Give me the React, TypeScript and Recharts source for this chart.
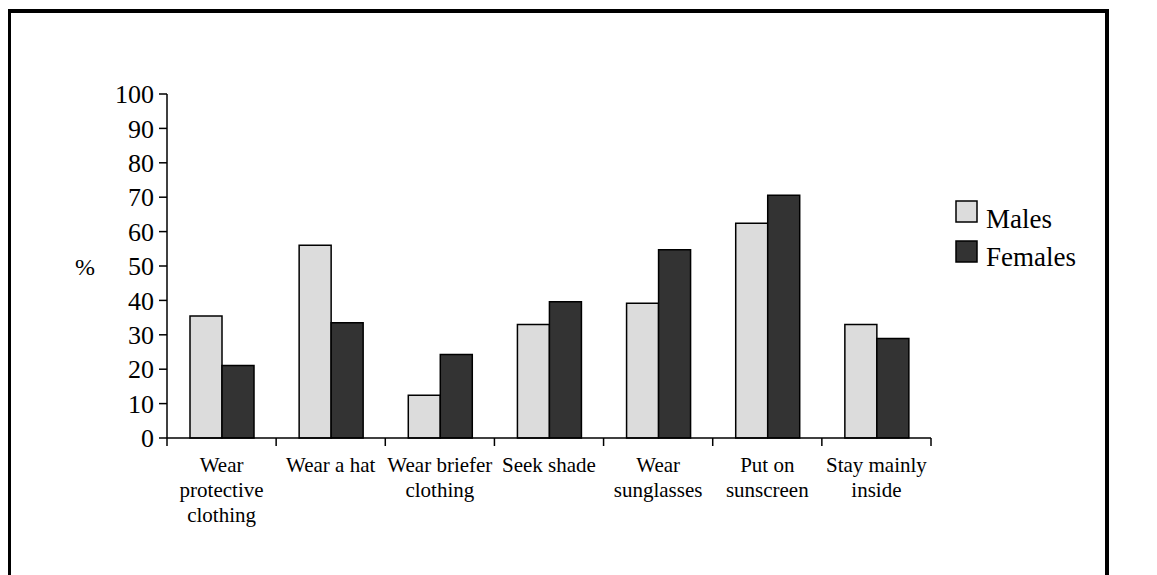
import { BarChart, Bar, XAxis, YAxis, Legend, Label } from "recharts";

const categories = [
  "Wear\nprotective\nclothing",
  "Wear a hat",
  "Wear briefer\nclothing",
  "Seek shade",
  "Wear\nsunglasses",
  "Put on\nsunscreen",
  "Stay mainly\ninside",
];
const males = [35.5, 56, 12.4, 33, 39.2, 62.4, 33];
const females = [21.1, 33.5, 24.3, 39.6, 54.7, 70.6, 28.9];
const yTicks = [0, 10, 20, 30, 40, 50, 60, 70, 80, 90, 100];
const seriesNames = ["Males", "Females"];

const LIGHT = "#dcdcdc";
const DARK = "#333333";
const FONT = "'Liberation Serif', 'Times New Roman', serif";

const data = categories.map((name, i) => ({ name, males: males[i], females: females[i] }));

function XTick(props: any) {
  const { x, y, payload, index } = props;
  const lines = String(payload.value).split("\n");
  const half = payload.offset ?? 0;
  return (
    <g>
      <line x1={x - half} x2={x - half} y1={y} y2={y + 8} stroke="#000" strokeWidth={1.5} />
      {index === categories.length - 1 && (
        <line x1={x + half} x2={x + half} y1={y} y2={y + 8} stroke="#000" strokeWidth={1.5} />
      )}
      <text x={x} y={y + 34} textAnchor="middle" fontSize={21} fontFamily={FONT} fill="#000">
        {lines.map((l, i) => (
          <tspan key={i} x={x} dy={i === 0 ? 0 : 25}>
            {l}
          </tspan>
        ))}
      </text>
    </g>
  );
}

function LegendBox() {
  const fills = [LIGHT, DARK];
  return (
    <svg width={140} height={80}>
      {seriesNames.map((n, i) => (
        <g key={n}>
          <rect x={1} y={1 + i * 40} width={21} height={21} fill={fills[i]} stroke="#000" strokeWidth={1.5} />
          <text x={31} y={28 + i * 38} fontSize={27} fontFamily={FONT} fill="#000">
            {n}
          </text>
        </g>
      ))}
    </svg>
  );
}

export default function App() {
  return (
    <div style={{ position: "relative", width: 1157, height: 575, marginLeft: -8, marginTop: -8 }}>
      <div
        style={{
          position: "absolute",
          left: 7,
          top: 9,
          width: 1094,
          height: 575,
          borderLeft: "4px solid #000",
          borderTop: "4px solid #000",
          borderRight: "4px solid #000",
        }}
      />
      <div style={{ position: "absolute", left: 0, top: 0 }}>
        <BarChart
          width={1157}
          height={575}
          data={data}
          margin={{ top: 94, right: 226, bottom: 77, left: 107 }}
          barGap={0}
          barSize={32}
        >
          <XAxis
            dataKey="name"
            height={60}
            axisLine={{ stroke: "#000", strokeWidth: 1.5 }}
            tickLine={false}
            tickSize={0}
            tickMargin={0}
            interval={0}
            tick={<XTick />}
          />
          <XAxis
            xAxisId="top"
            dataKey="name"
            orientation="top"
            height={0}
            axisLine={{ stroke: "#000", strokeWidth: 1.5 }}
            tick={false}
            tickLine={false}
          />
          <YAxis
            width={60}
            domain={[0, 100]}
            ticks={yTicks}
            interval={0}
            axisLine={{ stroke: "#000", strokeWidth: 1.5 }}
            tickLine={{ stroke: "#000", strokeWidth: 1.5 }}
            tickSize={8}
            tickMargin={5}
            tick={{ fontSize: 26, fontFamily: FONT, fill: "#000" }}
          >
            <Label value="%" position="left" offset={12} style={{ fontSize: 24, fontFamily: FONT, fill: "#000" }} />
          </YAxis>
          <YAxis
            yAxisId="right"
            orientation="right"
            width={0}
            domain={[0, 100]}
            axisLine={{ stroke: "#000", strokeWidth: 1.5 }}
            tick={false}
            tickLine={false}
          />
          <Legend
            layout="vertical"
            align="center"
            verticalAlign="middle"
            content={() => <LegendBox />}
            wrapperStyle={{ position: "absolute", left: 955, top: 200, width: 140 }}
          />
          <Bar dataKey="males" name="Males" fill={LIGHT} stroke="#000" strokeWidth={1.5} isAnimationActive={false} />
          <Bar dataKey="females" name="Females" fill={DARK} stroke="#000" strokeWidth={1.5} isAnimationActive={false} />
        </BarChart>
      </div>
    </div>
  );
}
